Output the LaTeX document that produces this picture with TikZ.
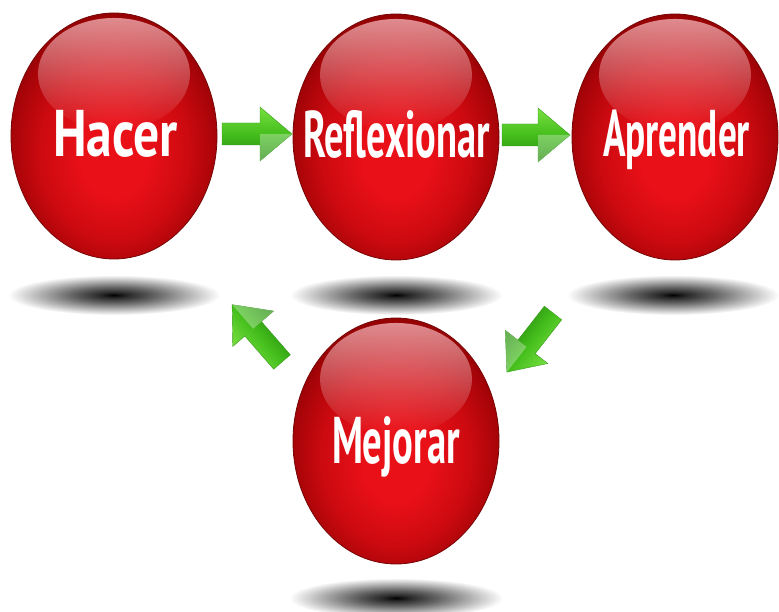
\documentclass[tikz,border=0pt]{standalone}
\usepackage{fontspec}
\setmainfont{PT Sans}
\usetikzlibrary{shapes.geometric,fadings}
\definecolor{rc1}{HTML}{EA1018}
\definecolor{rc2}{HTML}{CC0A10}
\definecolor{rc3}{HTML}{A60408}
\definecolor{rc4}{HTML}{7E0000}
\definecolor{rim}{HTML}{760606}
\definecolor{glosscol}{HTML}{F0AEB2}
\definecolor{gtop}{HTML}{78E040}
\definecolor{gmid}{HTML}{44BE1C}
\definecolor{gbot}{HTML}{23880C}
\definecolor{gedge}{HTML}{3A9A20}
\pgfdeclareradialshading{sphereshade}{\pgfpoint{0bp}{-5bp}}{color(0bp)=(rc1); color(8bp)=(rc1); color(18bp)=(rc2); color(25bp)=(rc3); color(30bp)=(rc4); color(50bp)=(rc4)}
\pgfdeclareradialshading{shadowshade}{\pgfpoint{0bp}{0bp}}{color(0bp)=(black); color(3bp)=(black!85); color(10bp)=(black!60); color(18bp)=(black!28); color(25bp)=(white); color(50bp)=(white)}
\newcommand\garrow[5]{% name, x, y, angle, length
  \coordinate (#1) at (#2,#3);
  \begin{scope}[transform canvas={shift={(#1)},rotate=#4}]
    \path[arrowbody] (0,-11) -- (#5-32,-11) -- (#5-32,-27) -- (#5,0) -- (#5-32,27) -- (#5-32,11) -- (0,11) -- cycle;
    \fill[white,opacity=0.3] (#5-32,0) -- (#5,0) -- (#5-32,27) -- cycle;
  \end{scope}}
\begin{document}
\begin{tikzpicture}[x=1pt,y=-1pt,
  sphere/.style={ellipse, minimum width=206pt, minimum height=246pt, inner sep=0pt, shade, shading=sphereshade, draw=rim, line width=0.8pt},
  gloss/.style={fill=glosscol, path fading=south, fill opacity=0.8},
  lbl/.style={text=white, font=\fontsize{66}{66}\selectfont\bfseries, inner sep=0pt, anchor=base},
  shadowstyle/.style={shade, shading=shadowshade},
  arrowbody/.style={top color=gtop, bottom color=gbot, middle color=gmid, draw=gedge, line width=0.4pt}]
\useasboundingbox[fill=white] (0,0) rectangle (779,612);

% shadows
\path[shadowstyle] (114,295) ellipse [x radius=106, y radius=20];
\path[shadowstyle] (396,295) ellipse [x radius=106, y radius=20];
\path[shadowstyle] (673,295) ellipse [x radius=106, y radius=20];
\path[shadowstyle] (396,598) ellipse [x radius=107, y radius=20];

% spheres
\node[sphere] (hacer) at (114,136) {};
\node[sphere] (reflexionar) at (396,137) {};
\node[sphere] (aprender) at (675,137) {};
\node[sphere] (mejorar) at (396,441) {};

% gloss
\fill[gloss] (114,74) ellipse [x radius=76, y radius=56];
\fill[gloss] (396,75) ellipse [x radius=76, y radius=56];
\fill[gloss] (675,75) ellipse [x radius=76, y radius=56];
\fill[gloss] (396,379) ellipse [x radius=76, y radius=56];

% labels
\node[lbl] (thacer) at (115.5,157) {\resizebox{125pt}{\height}{Hacer}};
\node[lbl] (treflexionar) at (396.5,158) {\resizebox{187pt}{\height}{Reflexionar}};
\node[lbl] (taprender) at (676.5,157) {\resizebox{147pt}{\height}{Aprender}};
\node[lbl] (tmejorar) at (396,463) {\resizebox{128pt}{\height}{Mejorar}};

% arrows
\garrow{a1}{222}{134}{0}{70}
\garrow{a2}{502}{135}{0}{68}
\garrow{a3}{553}{313}{232}{75}
\garrow{a4}{282}{362}{131}{76}
\end{tikzpicture}
\end{document}
